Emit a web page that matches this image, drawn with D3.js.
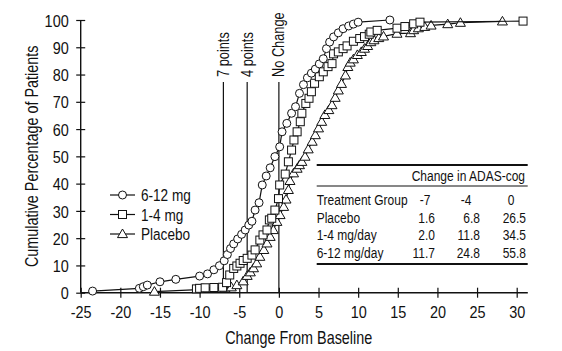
<!DOCTYPE html>
<html>
<head>
<meta charset="utf-8">
<script src="https://cdn.jsdelivr.net/npm/d3@7"></script>
<style>
  body { margin: 0; background: #fff; }
  svg text { font-family: "Liberation Sans", Arial, sans-serif; fill: #111; }
</style>
</head>
<body>
<div class="graph"></div>
<script>
// data: [change from baseline, cumulative %]
const highDose = [
  [-23.5, 0.6], [-17.6, 1.6], [-17.1, 2.2], [-16.6, 2.8], [-15.0, 4.0], [-13.0, 4.9],
  [-10.0, 6.1], [-9.0, 6.9], [-8.2, 8.4], [-7.5, 9.9], [-6.9, 11.7], [-6.5, 14.0],
  [-6.1, 16.2], [-5.7, 17.9], [-5.2, 19.7], [-4.7, 21.4], [-4.25, 23.0], [-3.8, 24.8],
  [-3.4, 26.2], [-3.0, 30.3], [-2.5, 33.0], [-2.1, 39.5], [-1.6, 42.8], [-1.1, 45.8],
  [-0.5, 49.9], [0.1, 53.5], [0.4, 59.0], [1.0, 62.1], [1.6, 65.8], [2.1, 68.2],
  [2.6, 73.1], [3.1, 76.3], [3.6, 78.8], [4.1, 80.5], [4.6, 82.0], [5.1, 83.9],
  [5.6, 85.8], [6.0, 89.5], [6.4, 91.9], [6.9, 93.8], [7.5, 95.3], [8.1, 96.8],
  [8.8, 97.8], [9.4, 98.5], [10.0, 99.2], [14.0, 100]
]
const lowDose = [
  [-10.4, 1.4], [-10.0, 1.6], [-9.3, 1.8], [-8.2, 1.9], [-7.1, 2.0], [-6.6, 3.7],
  [-6.2, 6.5], [-5.7, 8.9], [-5.3, 9.8], [-4.9, 10.8], [-4.5, 11.8], [-4.0, 12.6],
  [-3.4, 13.8], [-3.0, 15.7], [-2.4, 19.3], [-2.0, 21.2], [-1.5, 23.0], [-1.2, 26.7],
  [-0.9, 27.3], [-0.5, 30.3], [-0.05, 34.5], [0.1, 39.5], [0.8, 43.5], [1.2, 48.0],
  [1.6, 52.3], [1.9, 56.0], [2.3, 59.0], [2.7, 62.7], [2.9, 65.8], [3.4, 69.4],
  [3.8, 71.3], [4.1, 73.7], [4.5, 76.8], [5.1, 79.2], [5.6, 81.0], [6.2, 82.9],
  [6.7, 84.0], [6.9, 87.6], [7.5, 88.3], [8.1, 89.5], [8.6, 90.5], [9.4, 92.2],
  [10.2, 93.2], [10.8, 93.9], [11.4, 94.8], [11.6, 95.6], [12.4, 96.2], [14.9, 97.0],
  [15.9, 97.6], [17.0, 98.6], [17.8, 99.2], [30.8, 99.6]
]
const placebo = [
  [-15.7, 0.4], [-6.8, 1.6], [-6.0, 2.0], [-5.3, 2.8], [-4.5, 4.2], [-4.0, 6.2],
  [-3.6, 7.5], [-3.2, 9.0], [-2.8, 10.8], [-2.4, 13.2], [-1.9, 15.7], [-1.5, 18.1],
  [-1.1, 20.5], [-0.7, 23.0], [-0.25, 26.0], [0.15, 28.5], [0.6, 31.5], [0.9, 34.2],
  [1.2, 37.7], [1.4, 41.0], [1.85, 43.8], [2.3, 45.5], [2.6, 46.8], [2.9, 48.0],
  [3.3, 49.9], [3.7, 52.6], [4.2, 55.4], [4.6, 57.8], [5.0, 60.3], [5.4, 62.7],
  [5.8, 65.2], [6.3, 67.0], [6.7, 68.8], [7.1, 71.5], [7.5, 74.2], [7.9, 76.6],
  [8.4, 79.7], [8.7, 82.8], [9.0, 84.4], [9.4, 85.6], [9.9, 87.2], [10.4, 88.3],
  [10.8, 89.5], [11.2, 90.5], [11.6, 91.9], [12.0, 92.6], [12.6, 93.4], [13.2, 94.0],
  [14.9, 95.0], [16.6, 95.2], [17.0, 96.3], [17.6, 97.0], [18.4, 97.5], [19.2, 98.0],
  [21.3, 98.5], [22.9, 99.0], [28.2, 99.5]
]

const seriesNames = ['6-12 mg', '1-4 mg', 'Placebo']
const seriesMarkers = ['circle', 'square', 'triangle']
const xTicks = [-25, -20, -15, -10, -5, 0, 5, 10, 15, 20, 25, 30]
const yTicks = [0, 10, 20, 30, 40, 50, 60, 70, 80, 90, 100]
const refValues = [-7, -4, 0]
const refLabels = ['7 points', '4 points', 'No Change']

const tableTitle = 'Change in ADAS-cog'
const tableHeader = ['Treatment Group', '-7', '-4', '0']
const tableGroups = ['Placebo', '1-4 mg/day', '6-12 mg/day']
const tableValues = [
  ['1.6', '6.8', '26.5'],
  ['2.0', '11.8', '34.5'],
  ['11.7', '24.8', '55.8']
]

// config
const w = 562
const h = 351

const x = d3.scaleLinear().domain([-25, 30]).range([80.7, 516.7])
const y = d3.scaleLinear().domain([0, 100]).range([292.7, 20])

const svg = d3.select('.graph')
  .append('svg')
  .attr('width', w)
  .attr('height', h)
  .attr('viewBox', '0 0 ' + w + ' ' + h)

// squeeze text horizontally around its anchor (condensed look)
function narrow(sel, k) {
  sel.each(function () {
    const t = d3.select(this)
    const tx = +t.attr('x') || 0
    const ty = +t.attr('y') || 0
    const prev = t.attr('transform') || ''
    t.attr('transform', prev + ' translate(' + tx + ',' + ty + ') scale(' + k + ',1) translate(' + (-tx) + ',' + (-ty) + ')')
  })
}

// axes
const xAxis = d3.axisBottom(x).tickValues(xTicks).tickFormat(d => String(d)).tickSize(0).tickPadding(17)
const yAxis = d3.axisLeft(y).tickValues(yTicks).tickFormat(d => String(d)).tickSize(0).tickPadding(12)

const gx = svg.append('g')
  .attr('transform', 'translate(0,' + y(0) + ')')
  .call(xAxis)
gx.select('.domain').remove()
gx.selectAll('.tick line').attr('y1', -5).attr('y2', 5).attr('stroke', '#111').attr('stroke-width', 1.2)
gx.selectAll('.tick text').attr('font-size', 17).attr('dy', '0.5em').call(narrow, 0.85)
gx.append('line')
  .attr('x1', x(-25)).attr('x2', x(31.4))
  .attr('stroke', '#111').attr('stroke-width', 1.4)

const gy = svg.append('g')
  .attr('transform', 'translate(' + x(-25) + ',0)')
  .call(yAxis)
gy.select('.domain').remove()
gy.selectAll('.tick line').attr('x1', -4.5).attr('x2', 4.5).attr('stroke', '#111').attr('stroke-width', 1.2)
gy.selectAll('.tick text').attr('font-size', 17).attr('dy', '0.36em').call(narrow, 0.85)
gy.append('line')
  .attr('y1', y(0)).attr('y2', y(100))
  .attr('stroke', '#111').attr('stroke-width', 1.4)

// axis titles
svg.append('text')
  .attr('x', x(2.5))
  .attr('y', 344)
  .attr('text-anchor', 'middle')
  .attr('font-size', 18)
  .text('Change From Baseline')
  .call(narrow, 0.8)

svg.append('text')
  .attr('transform', 'translate(37.5,' + y(50) + ') rotate(-90)')
  .attr('text-anchor', 'middle')
  .attr('font-size', 18)
  .text('Cumulative Percentage of Patients')
  .call(narrow, 0.8)

// reference lines
const refs = svg.append('g')
refs.selectAll('line')
  .data(refValues)
  .join('line')
  .attr('x1', d => x(d)).attr('x2', d => x(d))
  .attr('y1', 82).attr('y2', y(0))
  .attr('stroke', '#111').attr('stroke-width', 1.2)
refs.selectAll('text')
  .data(refValues)
  .join('text')
  .attr('transform', d => 'translate(' + (x(d) + 5.5) + ',77) rotate(-90)')
  .attr('font-size', 16)
  .text((d, i) => refLabels[i])
  .call(narrow, 0.8)

// markers
function drawMarker(g, kind) {
  if (kind == 'circle') {
    g.append('circle').attr('r', 4)
  } else if (kind == 'square') {
    g.append('rect').attr('x', -4).attr('y', -4).attr('width', 8).attr('height', 8)
  } else {
    g.append('path').attr('d', 'M0,-5L5,3.6L-5,3.6Z')
  }
  g.selectAll('*').attr('fill', '#fff').attr('stroke', '#111').attr('stroke-width', 1)
}

const line = d3.line().x(d => x(d[0])).y(d => y(d[1]))
const allSeries = [placebo, lowDose, highDose]
const allMarkers = ['triangle', 'square', 'circle']

allSeries.forEach((s, i) => {
  const g = svg.append('g')
  g.append('path')
    .attr('d', line(s))
    .attr('fill', 'none')
    .attr('stroke', '#111')
    .attr('stroke-width', 1.2)
  g.selectAll('g.point')
    .data(s)
    .join('g')
    .attr('class', 'point')
    .attr('transform', d => 'translate(' + x(d[0]) + ',' + y(d[1]) + ')')
    .each(function () { drawMarker(d3.select(this), allMarkers[i]) })
})

// legend
const legend = svg.append('g')
const legendY = [195, 214.5, 234]
seriesNames.forEach((name, i) => {
  const row = legend.append('g').attr('transform', 'translate(0,' + legendY[i] + ')')
  row.append('line')
    .attr('x1', 110).attr('x2', 135)
    .attr('stroke', '#111').attr('stroke-width', 1.2)
  const m = row.append('g').attr('transform', 'translate(122.5,0)')
  drawMarker(m, seriesMarkers[i])
  row.append('text')
    .attr('x', 141)
    .attr('dy', '0.36em')
    .attr('font-size', 17)
    .text(name)
    .call(narrow, 0.8)
})

// table
const tbl = svg.append('g')
const tLeft = 316.7
const tRight = 527.7
tbl.append('line').attr('x1', tLeft).attr('x2', tRight).attr('y1', 165).attr('y2', 165)
  .attr('stroke', '#111').attr('stroke-width', 2.2)
tbl.append('line').attr('x1', tLeft).attr('x2', tRight).attr('y1', 186).attr('y2', 186)
  .attr('stroke', '#111').attr('stroke-width', 1.2)
tbl.append('line').attr('x1', tLeft).attr('x2', tRight).attr('y1', 264).attr('y2', 264)
  .attr('stroke', '#111').attr('stroke-width', 2.2)

tbl.append('text')
  .attr('x', 525).attr('y', 181.5)
  .attr('text-anchor', 'end')
  .attr('font-size', 15)
  .text(tableTitle)

const colRight = [435, 480, 526]
const colMid = [425, 466, 511]
const rowY = [205, 222.7, 240.5, 258.3]

tbl.append('text')
  .attr('x', tLeft).attr('y', rowY[0])
  .attr('font-size', 15)
  .text(tableHeader[0])
tableHeader.slice(1).forEach((t, j) => {
  tbl.append('text')
    .attr('x', colMid[j]).attr('y', rowY[0])
    .attr('text-anchor', 'middle')
    .attr('font-size', 15)
    .text(t)
})
tableGroups.forEach((g, i) => {
  tbl.append('text')
    .attr('x', tLeft).attr('y', rowY[i + 1])
    .attr('font-size', 15)
    .text(g)
  tableValues[i].forEach((v, j) => {
    tbl.append('text')
      .attr('x', colRight[j]).attr('y', rowY[i + 1])
      .attr('text-anchor', 'end')
      .attr('font-size', 15)
      .text(v)
  })
})
tbl.selectAll('text').call(narrow, 0.8)
</script>
</body>
</html>
